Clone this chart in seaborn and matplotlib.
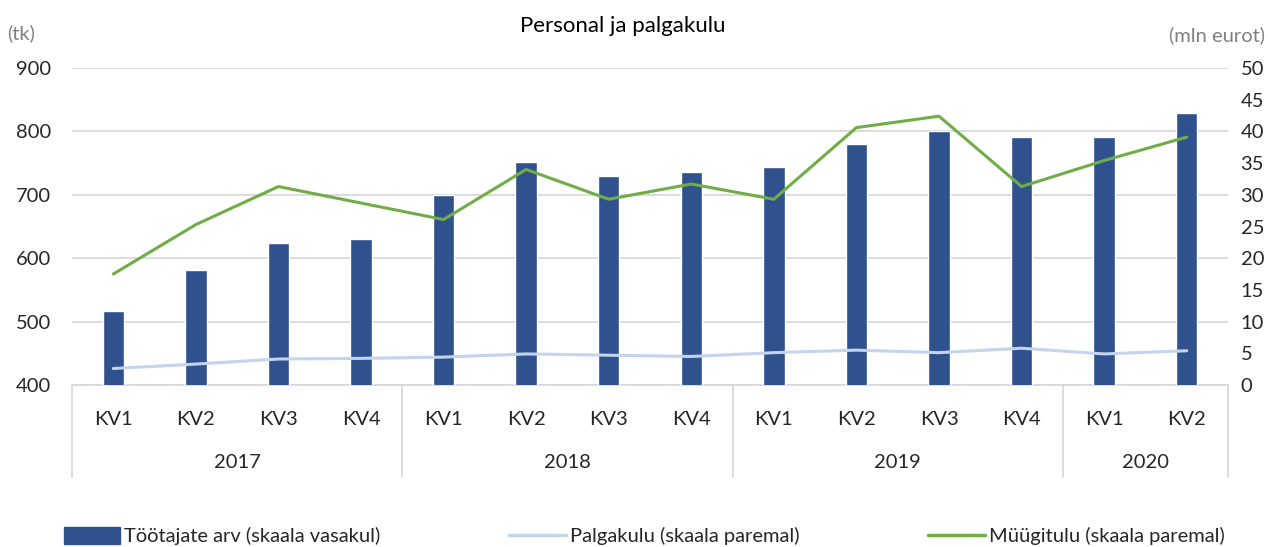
import pandas as pd
import numpy as np
import matplotlib
matplotlib.use("Agg")
import matplotlib.pyplot as plt
from matplotlib.patches import Patch
from matplotlib.lines import Line2D
import seaborn as sns

# ---- data ----
years = ["2017", "2018", "2019", "2020"]
quarters_per_year = [4, 4, 4, 2]
quarters = ["KV1", "KV2", "KV3", "KV4", "KV1", "KV2", "KV3", "KV4",
            "KV1", "KV2", "KV3", "KV4", "KV1", "KV2"]
tootajad = [517, 582, 624, 630, 699, 752, 729, 736, 744, 780, 800, 791, 791, 829]
palgakulu = [2.6, 3.3, 4.1, 4.2, 4.4, 4.9, 4.7, 4.5, 5.1, 5.5, 5.1, 5.8, 4.9, 5.4]
myygitulu = [17.5, 25.3, 31.3, 28.7, 26.1, 34.0, 29.3, 31.7, 29.3, 40.6, 42.4, 31.3, 35.4, 39.1]

year_col = [y for y, n in zip(years, quarters_per_year) for _ in range(n)]
df = pd.DataFrame({
    "label": [f"{y} {q}" for y, q in zip(year_col, quarters)],
    "pos": np.arange(len(quarters)),
    "tootajad": tootajad,
    "palgakulu": palgakulu,
    "myygitulu": myygitulu,
})

bar_color = "#2F528F"
pal_color = "#C5D4EE"
myy_color = "#70AD47"
grid_color = "#D9D9D9"
text_color = "#262626"
fs = 14.5

sns.set_style("white")
plt.rcParams["font.family"] = ["Lato", "DejaVu Sans"]

fig = plt.figure(figsize=(12.68, 5.47), dpi=100)
ax = fig.add_axes([72 / 1268, 1 - 385 / 547, 1156 / 1268, 317 / 547])

# ---- bars (left axis) ----
sns.barplot(data=df, x="label", y="tootajad", color=bar_color, width=0.26,
            saturation=1, ax=ax, zorder=2)
ax.set_ylim(400, 900)
ax.set_yticks(range(400, 901, 100))
ax.set_xlim(-0.5, len(quarters) - 0.5)
ax.grid(axis="y", color=grid_color, linewidth=1.3, zorder=0)
ax.set_axisbelow(True)
for s in ax.spines.values():
    s.set_visible(False)
ax.set_xlabel("")
ax.set_ylabel("")
ax.set_xticks(df["pos"])
ax.set_xticklabels(quarters)
ax.tick_params(axis="x", length=0, pad=19, labelsize=fs, labelcolor=text_color)
ax.tick_params(axis="y", length=0, pad=15, labelsize=fs, labelcolor=text_color)

# ---- lines (right axis) ----
ax2 = ax.twinx()
sns.lineplot(data=df, x="pos", y="palgakulu", color=pal_color, linewidth=2.2, ax=ax2)
sns.lineplot(data=df, x="pos", y="myygitulu", color=myy_color, linewidth=2.2, ax=ax2)
ax2.set_ylim(0, 50)
ax2.set_yticks(range(0, 51, 5))
ax2.set_xlim(-0.5, len(quarters) - 0.5)
ax2.set_xlabel("")
ax2.set_ylabel("")
for s in ax2.spines.values():
    s.set_visible(False)
ax2.tick_params(axis="y", length=0, pad=9, labelsize=fs, labelcolor=text_color)

# ---- multi-level category axis ----
trans = ax.get_xaxis_transform()
ax.plot([-0.5, len(quarters) - 0.5], [0, 0], transform=trans, color=grid_color,
        linewidth=1.3, clip_on=False, zorder=1)
edges = np.concatenate([[0], np.cumsum(quarters_per_year)]) - 0.5
for e in edges:
    ax.plot([e, e], [0, -0.29], transform=trans, color=grid_color,
            linewidth=1.3, clip_on=False)
for y, a, b in zip(years, edges[:-1], edges[1:]):
    ax.text((a + b) / 2, -0.246, y, transform=trans, ha="center", va="center",
            fontsize=fs, color=text_color)

# ---- titles and unit labels ----
fig.text(0.491, 0.952, "Personal ja palgakulu", ha="center", va="center",
         fontsize=16, color="black")
fig.text(0.006, 0.94, "(tk)", ha="left", va="center", fontsize=fs, color="#808080")
fig.text(0.998, 0.935, "(mln eurot)", ha="right", va="center", fontsize=fs,
         color="#808080")

# ---- legend ----
handles = [
    Patch(facecolor=bar_color, edgecolor=bar_color),
    Line2D([0], [0], color=pal_color, linewidth=2.5),
    Line2D([0], [0], color=myy_color, linewidth=2.5),
]
labels = ["Töötajate arv (skaala vasakul)", "Palgakulu (skaala paremal)",
          "Müügitulu (skaala paremal)"]
fig.legend(handles, labels, loc="lower center", bbox_to_anchor=(0.508, -0.03),
           ncol=3, frameon=False, fontsize=fs, handlelength=2.8,
           handleheight=0.9, handletextpad=0.2, columnspacing=6.4,
           labelcolor=text_color)

plt.savefig("out.png", dpi=100)
plt.close()
